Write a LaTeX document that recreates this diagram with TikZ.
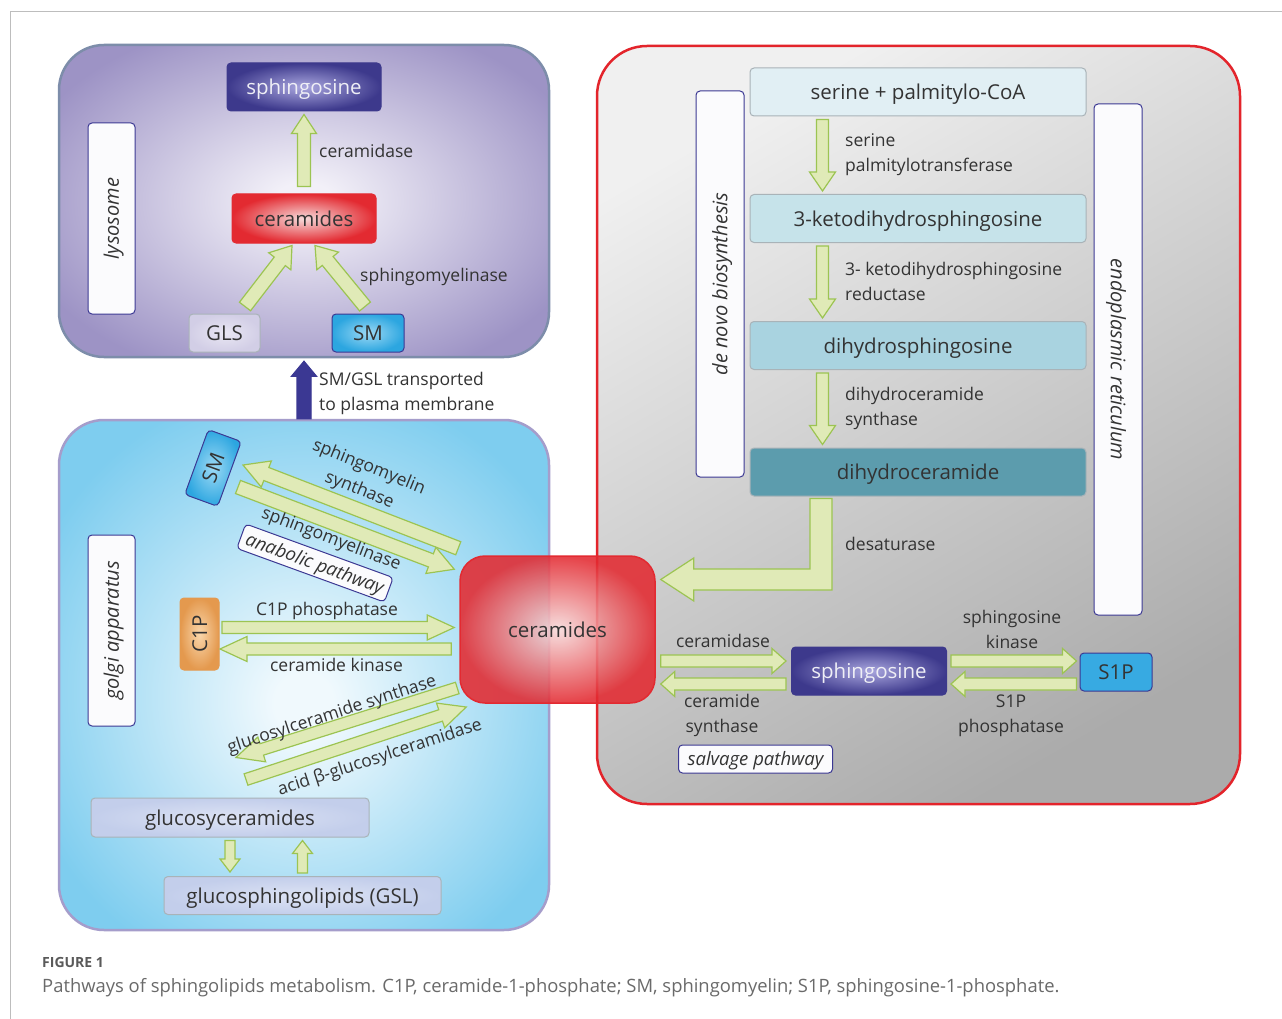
\documentclass[tikz,border=0pt]{standalone}
\usepackage{fontspec}
\setmainfont{Open Sans}
\usetikzlibrary{calc,positioning}

\definecolor{txtgray}{HTML}{333333}
\definecolor{framegray}{HTML}{BDBDBD}
\definecolor{lyspurple}{HTML}{9D93C5}
\definecolor{lyscore}{HTML}{F2F0F8}
\definecolor{lysline}{HTML}{7D8DAA}
\definecolor{golgiblue}{HTML}{7ECDEF}
\definecolor{golgicore}{HTML}{F0F9FD}
\definecolor{golgiline}{HTML}{A59DCB}
\definecolor{erred}{HTML}{E3242B}
\definecolor{ergraylight}{HTML}{F0F0F0}
\definecolor{ergraydark}{HTML}{ABABAB}
\definecolor{cerred}{HTML}{E32A31}
\definecolor{cercore}{HTML}{F6DADA}
\definecolor{sphblue}{HTML}{3D398C}
\definecolor{sphcore}{HTML}{A9A6DE}
\definecolor{smblue}{HTML}{2CA6E0}
\definecolor{smcore}{HTML}{9CD9F5}
\definecolor{tagblue}{HTML}{3B3893}
\definecolor{arrowfill}{HTML}{E0EAB7}
\definecolor{arrowline}{HTML}{9CC452}
\definecolor{c1porange}{HTML}{E4994E}
\definecolor{c1pcore}{HTML}{F9D6AB}
\definecolor{glcfill}{HTML}{C3CEEB}
\definecolor{glccore}{HTML}{DDE3F4}
\definecolor{glsfill}{HTML}{D2CEE6}
\definecolor{glscore}{HTML}{E9E7F3}
\definecolor{serfill}{HTML}{E1EFF4}
\definecolor{ketofill}{HTML}{C6E3EA}
\definecolor{dhsfill}{HTML}{A9D3E0}
\definecolor{dhcfill}{HTML}{5C9CAD}
\definecolor{boxline}{HTML}{A9B3B8}
\definecolor{capgray}{HTML}{6A6A6A}

\pgfdeclareradialshading{lysglow}{\pgfpoint{0bp}{0bp}}{color(0bp)=(lyscore); color(3bp)=(lyscore); color(30bp)=(lyspurple); color(50bp)=(lyspurple)}
\pgfdeclareradialshading{golgiglow}{\pgfpoint{0bp}{-3bp}}{color(0bp)=(golgicore); color(3bp)=(golgicore); color(30bp)=(golgiblue); color(50bp)=(golgiblue)}

\tikzset{
  fatstyle/.style={fill=arrowfill, draw=arrowline, line width=1.2, line join=miter},
  organelle/.style={draw, line width=2.5, rounded corners=45},
  tagbox/.style={draw=tagblue, fill=white!96!lyspurple, line width=1, rounded corners=4,
    inner sep=0, text height=14.5pt, text depth=0pt, text=txtgray, font=\itshape\fontsize{20}{24}\selectfont},
  metabox/.style={draw=boxline, line width=1, rounded corners=4, inner sep=0,
    text height=15pt, text depth=0pt, text=txtgray, font=\fontsize{20.5}{24}\selectfont},
  sphbox/.style={metabox, draw=sphblue, inner color=sphcore, outer color=sphblue, text=white!92!sphblue},
  smbox/.style={metabox, draw=tagblue, inner color=smcore, outer color=smblue},
  erbox/.style={metabox, minimum width=336, minimum height=48},
  enzyme/.style={inner sep=0, text=txtgray, align=left, font=\fontsize{17.5}{25}\selectfont},
}

% tail, tip, shaft half width, head half width, head length
\newcommand{\fatarrow}[6][]{%
  \coordinate (fa-t) at #2;
  \coordinate (fa-p) at #3;
  \coordinate (fa-h) at ($(fa-p)!#6!(fa-t)$);
  \draw[fatstyle,#1] ($(fa-t)!#4!90:(fa-p)$) -- ($(fa-h)!#4!-90:(fa-t)$)
    -- ($(fa-h)!#5!-90:(fa-t)$) -- (fa-p) -- ($(fa-h)!#5!90:(fa-t)$)
    -- ($(fa-h)!#4!90:(fa-t)$) -- ($(fa-t)!#4!-90:(fa-p)$) -- cycle;
}

\begin{document}
\begin{tikzpicture}[x=1pt, y=-1pt]
    \useasboundingbox (0,0) rectangle (1282,1019);
    \fill[white] (0,0) rectangle (1282,1019);
    \draw[framegray, line width=1] (10,1019) -- (10,12) -- (1282,12);

    % Compartments
    \node[organelle, draw=lysline, shade, shading=lysglow, minimum width=490, minimum height=312] (lyso) at (304,201) {};
    \node[organelle, draw=golgiline, shade, shading=golgiglow, minimum width=490, minimum height=510] (golgi) at (304,675) {};
    \node[organelle, draw=erred, rounded corners=50, top color=ergraylight, bottom color=ergraydark,
          shading angle=30, minimum width=643, minimum height=758] (er) at (918.5,425) {};

    % Compartment tags
    \node[tagbox, rotate=90, minimum width=191, minimum height=47] (lysotag) at (111.5,218.5) {lysosome};
    \node[tagbox, rotate=90, minimum width=191, minimum height=47] (golgitag) at (111.5,630.5) {golgi apparatus};
    \node[tagbox, rotate=90, minimum width=386, minimum height=48] (denovo) at (720,284) {de novo biosynthesis};
    \node[tagbox, rotate=-90, minimum width=511, minimum height=48] (ertag) at (1118,359.5) {endoplasmic reticulum};
    \node[tagbox, minimum width=154, minimum height=28, text height=13.5pt, font=\itshape\fontsize{18.5}{22}\selectfont] (salvage) at (755.5,759) {salvage pathway};
    \node[tagbox, rotate=-20, minimum width=157, minimum height=26, text height=13.5pt, font=\itshape\fontsize{18.5}{22}\selectfont] (anab) at (315,563) {anabolic pathway};

    % Lysosome
    \node[sphbox, minimum width=154, minimum height=48] (sphL) at (304,87) {sphingosine};
    \node[metabox, draw=cerred, inner color=cercore, outer color=cerred, minimum width=144, minimum height=49] (cerL) at (304,218.5) {ceramides};
    \node[metabox, inner color=glscore, outer color=glsfill, minimum width=71, minimum height=38] (gls) at (224.5,333) {GLS};
    \node[smbox, minimum width=72, minimum height=38] (smL) at (368,333) {SM};

    % Central ceramides
    \node[metabox, draw=cerred, line width=1.5, rounded corners=25, inner color=cercore, outer color=cerred,
          fill opacity=0.88, text opacity=1, minimum width=195, minimum height=147] (cer) at (557.5,629.5) {ceramides};

    % Golgi apparatus
    \node[smbox, rotate=70, minimum width=69, minimum height=35] (smG) at (213,468) {SM};
    \node[metabox, draw=c1porange, inner color=c1pcore, outer color=c1porange, rotate=90, minimum width=72, minimum height=39] (c1p) at (199.5,634) {C1P};
    \node[metabox, inner color=glccore, outer color=glcfill, minimum width=278, minimum height=39] (gcer) at (230,817.5) {glucosyceramides};
    \node[metabox, inner color=glccore, outer color=glcfill, minimum width=277, minimum height=38] (gsl) at (302.5,895.5) {glucosphingolipids (GSL)};

    % Endoplasmic reticulum
    \node[erbox, fill=serfill] (ser) at (918,92) {serine + palmitylo-CoA};
    \node[erbox, fill=ketofill] (keto) at (918,218.5) {3-ketodihydrosphingosine};
    \node[erbox, fill=dhsfill] (dhs) at (918,345.5) {dihydrosphingosine};
    \node[erbox, fill=dhcfill] (dhc) at (918,472) {dihydroceramide};
    \node[sphbox, minimum width=155, minimum height=48] (sphE) at (869,671) {sphingosine};
    \node[metabox, draw=tagblue, fill=smblue!95!white, minimum width=72, minimum height=38] (s1p) at (1116,672) {S1P};

    % Lysosome arrows
    \fatarrow{($(cerL.north)+(0,-7)$)}{($(sphL.south)+(0,3)$)}{6.5pt}{12.5pt}{19pt}
    \fatarrow{($(gls.north)+(20.5,-7)$)}{($(cerL.south)+(-12,2)$)}{7pt}{14pt}{20pt}
    \fatarrow{($(smL.north)+(-3,-7)$)}{($(cerL.south)+(11,2)$)}{7pt}{14pt}{20pt}
    \fatarrow[fill=tagblue, draw=tagblue]{(golgi.north)}{($(lyso.south)+(0,3)$)}{7pt}{12.5pt}{15pt}

    % Golgi arrows
    \fatarrow{($(cer.north west)+(-1,-7)$)}{($(smG.center)+(30,-3)$)}{7pt}{14pt}{25pt}
    \fatarrow{($(smG.center)+(25,19)$)}{($(cer.north west)+(-5,14)$)}{7pt}{14pt}{25pt}
    \fatarrow{($(c1p.center)+(22.5,-6.5)$)}{($(cer.west)+(-5,-2)$)}{6pt}{12.5pt}{27pt}
    \fatarrow{($(cer.west)+(-8,19.5)$)}{($(c1p.center)+(20.5,15)$)}{6pt}{12.5pt}{27pt}
    \fatarrow{($(cer.west)+(-2,58.5)$)}{($(gcer.north)+(6,-40)$)}{6pt}{13pt}{27pt}
    \fatarrow{($(gcer.north)+(16,-18)$)}{($(cer.west)+(7,77.5)$)}{6pt}{13pt}{27pt}
    \fatarrow{($(gcer.south)+(0,3)$)}{($(gsl.north)+(-72.5,-4)$)}{5pt}{10pt}{13pt}
    \fatarrow{($(gsl.north)+(0,-3)$)}{($(gcer.south)+(72.5,3)$)}{5pt}{10pt}{13pt}

    % ER arrows
    \fatarrow{($(ser.south west)+(73,3)$)}{($(keto.north west)+(73,-3)$)}{6pt}{13pt}{19pt}
    \fatarrow{($(keto.south west)+(73,3)$)}{($(dhs.north west)+(73,-3)$)}{6pt}{13pt}{19pt}
    \fatarrow{($(dhs.south west)+(73,3)$)}{($(dhc.north west)+(73,-3)$)}{6pt}{13pt}{19pt}
    \coordinate (dsTop) at ($(dhc.south)+(-97,2)$);
    \coordinate (dsTip) at ($(cer.east)+(5,-50)$);
    \draw[fatstyle] ($(dsTop)+(-11,0)$) -- ($(dsTop)+(11,0)$) |- ($(dsTip)+(33,10.5)$)
      -- ($(dsTip)+(33,21.5)$) -- (dsTip) -- ($(dsTip)+(33,-21.5)$) -- ($(dsTip)+(33,-10.5)$)
      -| ($(dsTop)+(-11,0)$) -- cycle;
    \fatarrow{($(cer.east)+(5,31.5)$)}{($(sphE.west)+(-5,-10)$)}{6pt}{12.5pt}{14pt}
    \fatarrow{($(sphE.west)+(-5,13)$)}{($(cer.east)+(5,54.5)$)}{6pt}{12.5pt}{14pt}
    \fatarrow{($(sphE.east)+(4,-10)$)}{($(s1p.west)+(-3,-11)$)}{6pt}{12.5pt}{14pt}
    \fatarrow{($(s1p.west)+(-3,12)$)}{($(sphE.east)+(4,13)$)}{6pt}{12.5pt}{14pt}

    % Enzyme labels
    \node[enzyme, anchor=west] (cdaseL) at (319,151) {ceramidase};
    \node[enzyme, anchor=west] (smaseL) at (360,277) {sphingomyelinase};
    \node[enzyme, anchor=west] (transp) at (319,393.5) {SM/GSL transported\\to plasma membrane};
    \node[enzyme, align=center, rotate=-22] (smsG) at (364,479) {sphingomyelin\\synthase};
    \node[enzyme, rotate=-21] (smaseG) at (331,539.5) {sphingomyelinase};
    \node[enzyme] (c1pp) at (327,611) {C1P phosphatase};
    \node[enzyme] (cerk) at (336.5,665) {ceramide kinase};
    \node[enzyme, rotate=18] (gcs) at (332,715) {glucosylceramide synthase};
    \node[enzyme, rotate=18] (gba) at (380,758) {acid β-glucosylceramidase};
    \node[enzyme, anchor=west] (spt) at (845,154.5) {serine\\palmitylotransferase};
    \node[enzyme, anchor=west] (kdsr) at (845,281) {3- ketodihydrosphingosine\\reductase};
    \node[enzyme, anchor=west] (cers1) at (845,408) {dihydroceramide\\synthase};
    \node[enzyme, anchor=west] (des) at (845,544) {desaturase};
    \node[enzyme] (cdaseE) at (723,641) {ceramidase};
    \node[enzyme, align=center] (cers2) at (722,715.5) {ceramide\\synthase};
    \node[enzyme, align=center] (sk) at (1012,629) {sphingosine\\kinase};
    \node[enzyme, align=center] (s1pp) at (1011,715.5) {S1P\\phosphatase};

    % Caption
    \node[anchor=west, inner sep=0, text=capgray!85!black, font=\bfseries\fontsize{14}{16}\selectfont] (fig) at (42,962) {FIGURE 1};
    \node[anchor=west, inner sep=0, text=capgray, font=\fontsize{18.4}{21}\selectfont] (cap) at (42,988)
      {Pathways of sphingolipids metabolism. C1P, ceramide-1-phosphate; SM, sphingomyelin; S1P, sphingosine-1-phosphate.};
\end{tikzpicture}
\end{document}
